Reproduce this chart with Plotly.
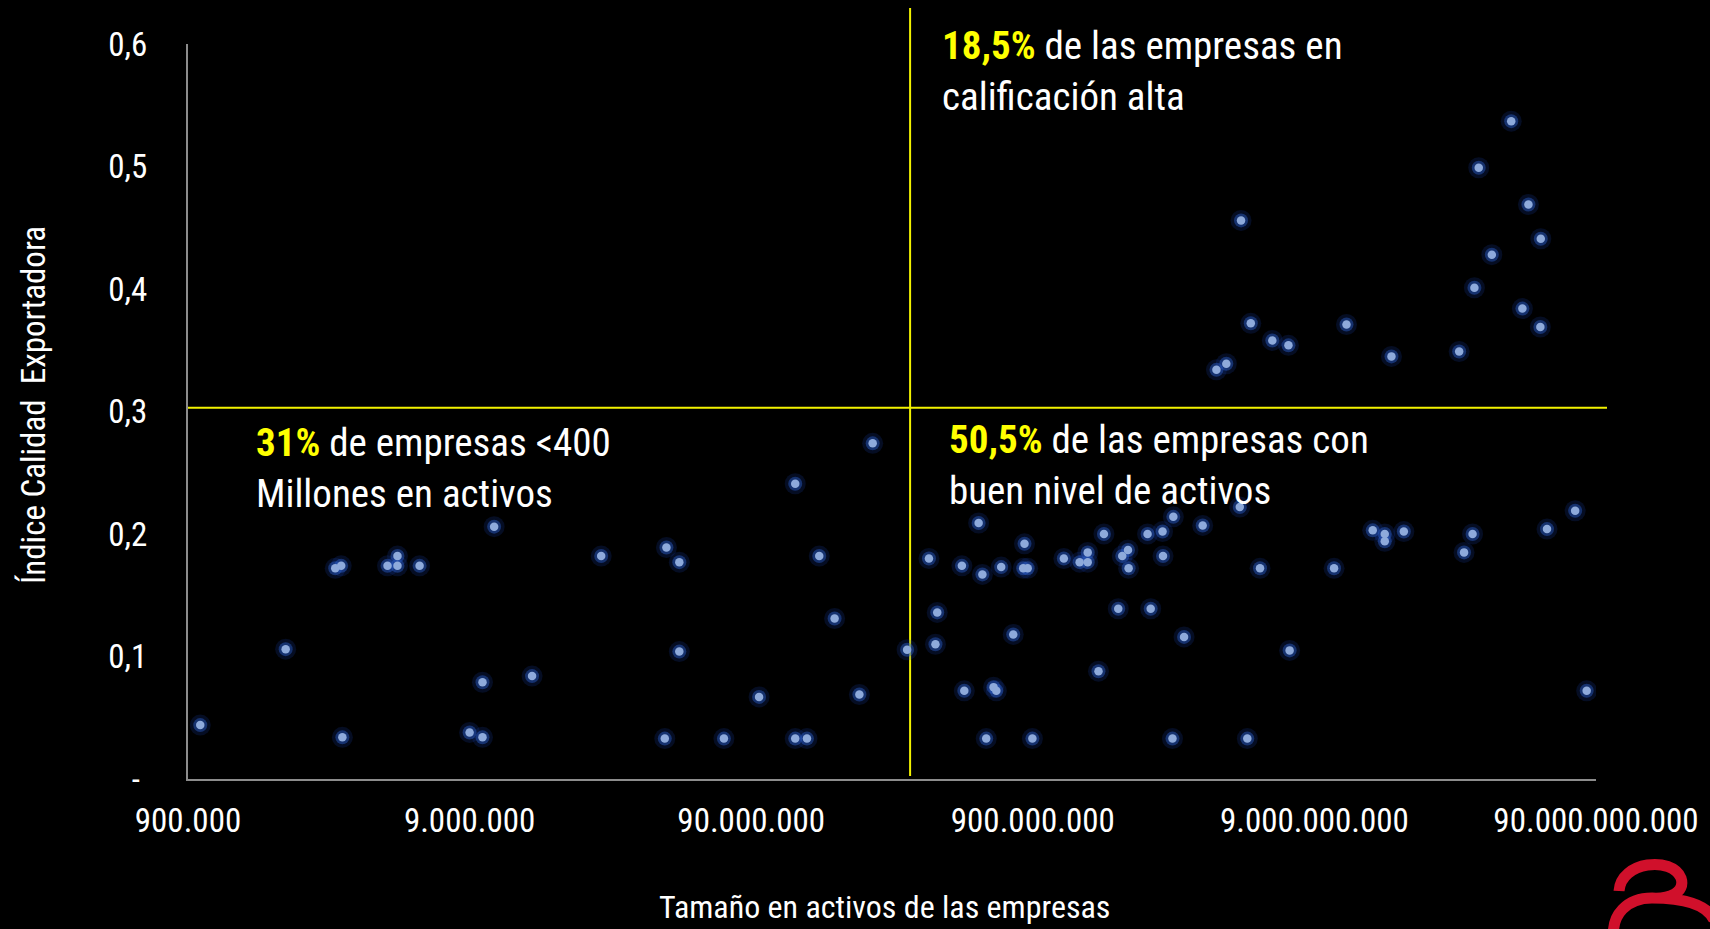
import math
import plotly.graph_objects as go

# ---------------- data ----------------
activos = [
    9.95e5, 2.0e6, 3.0e6, 3.15e6, 3.18e6, 4.6e6, 4.99e6, 4.99e6, 5.98e6, 9.0e6,
    1.0e7, 1.0e7, 1.1e7, 1.5e7, 2.64e7, 4.5e7, 5.0e7, 5.0e7, 4.44e7, 7.2e7,
    9.6e7, 1.29e8, 1.29e8, 1.42e8, 1.57e8, 1.78e8, 2.18e8, 2.43e8, 3.22e8,
    3.85e8, 4.12e8, 4.06e8, 5.78e8, 5.04e8, 5.96e8, 6.95e8, 8.41e8, 8.32e8, 8.63e8,
    7.67e8, 5.14e8, 6.53e8, 6.68e8, 6.15e8, 8.97e8, 1.16e9, 1.32e9, 1.41e9, 1.41e9,
    1.61e9, 1.87e9, 1.96e9, 1.97e9, 1.54e9, 1.81e9, 2.30e9, 2.60e9, 2.84e9, 2.61e9,
    2.36e9, 3.61e9, 3.10e9, 2.82e9, 4.89e9, 5.77e9, 5.20e9, 7.35e9,
    1.057e10, 1.45e10, 1.60e10, 1.60e10, 1.87e10, 3.28e10, 3.06e10, 6.03e10, 7.59e10, 8.34e10,
    4.04e9, 4.38e9, 4.94e9, 5.35e9, 6.38e9, 7.28e9, 1.17e10, 1.69e10, 2.94e10, 3.33e10,
    3.45e10, 3.84e10, 4.50e10, 4.93e10, 5.18e10, 5.73e10, 5.71e10,
]
indice = [
    0.044, 0.106, 0.172, 0.174, 0.034, 0.174, 0.182, 0.174, 0.174, 0.038,
    0.034, 0.079, 0.206, 0.084, 0.182, 0.189, 0.177, 0.104, 0.033, 0.033,
    0.067, 0.241, 0.033, 0.033, 0.182, 0.131, 0.069, 0.274, 0.1055,
    0.180, 0.136, 0.110, 0.209, 0.174, 0.167, 0.173, 0.192, 0.172, 0.172,
    0.118, 0.072, 0.075, 0.072, 0.033, 0.033, 0.180, 0.177, 0.177, 0.185,
    0.200, 0.182, 0.187, 0.172, 0.088, 0.139, 0.200, 0.202, 0.214, 0.182,
    0.139, 0.207, 0.116, 0.033, 0.222, 0.172, 0.033, 0.105,
    0.172, 0.203, 0.200, 0.194, 0.202, 0.200, 0.185, 0.204, 0.219, 0.072,
    0.334, 0.339, 0.456, 0.372, 0.358, 0.354, 0.371, 0.345, 0.349, 0.401,
    0.499, 0.428, 0.537, 0.384, 0.469, 0.441, 0.369,
]

x_tickvals = [9e5, 9e6, 9e7, 9e8, 9e9, 9e10]
x_ticktext = ["900.000", "9.000.000", "90.000.000", "900.000.000",
              "9.000.000.000", "90.000.000.000"]
y_tickvals = [0, 0.1, 0.2, 0.3, 0.4, 0.5, 0.6]
y_ticktext = ["-\u00a0", "0,1", "0,2", "0,3", "0,4", "0,5", "0,6"]

umbral_indice = 0.303
umbral_activos = 3.3e8

x_title = "Tamaño en activos de las empresas"
y_title = "Índice Calidad  Exportadora"
txt_alta = ("<span style='color:#FFFF00'><b>18,5%</b></span> de las empresas en"
            "<br>calificación alta")
txt_bajo = ("<span style='color:#FFFF00'><b>31%</b></span> de empresas &lt;400"
            "<br>Millones en activos")
txt_medio = ("<span style='color:#FFFF00'><b>50,5%</b></span> de las empresas con"
             "<br>buen nivel de activos")

# ---------------- layout geometry ----------------
W, H = 1710, 929
ML, MR, MT, MB = 188, 114, 44, 150
PW = W - ML - MR
PH = H - MT - MB
XMIN, XMAX = math.log10(9e5), math.log10(9e10)
YMIN, YMAX = 0.0, 0.6


def px_x(px):
    return (px - ML) / PW


def px_y(py):
    return (H - MB - py) / PH


FONT = "Liberation Sans Narrow, Arial Narrow, Roboto Condensed, DejaVu Sans Condensed, sans-serif"
WHITE = "#FFFFFF"

fig = go.Figure()

# glow layers + core points
fig.add_trace(go.Scatter(x=activos, y=indice, mode="markers", hoverinfo="skip",
                         marker=dict(size=21, color="rgba(25,60,160,0.22)", line=dict(width=0))))
fig.add_trace(go.Scatter(x=activos, y=indice, mode="markers", hoverinfo="skip",
                         marker=dict(size=14, color="rgba(45,95,205,0.45)", line=dict(width=0))))
fig.add_trace(go.Scatter(x=activos, y=indice, mode="markers",
                         marker=dict(size=8.5, color="#8EAADB", line=dict(width=0))))

# quadrant lines
hx1 = px_x(1607)
hy = (umbral_indice - YMIN) / (YMAX - YMIN)
vx = (math.log10(umbral_activos) - XMIN) / (XMAX - XMIN)
shapes = [
    dict(type="line", xref="paper", yref="paper", x0=0, x1=hx1, y0=hy, y1=hy,
         line=dict(color="#F2F200", width=2), layer="below"),
    dict(type="line", xref="paper", yref="paper", x0=vx, x1=vx, y0=px_y(776), y1=px_y(8),
         line=dict(color="#F2F200", width=2), layer="below"),
]

# logo (decorative, bottom-right)
logo_pts = [
    ("M", [(1619, 891)]),
    ("C", [(1621, 861), (1672, 856), (1681, 878)]),
    ("C", [(1686, 893), (1668, 899), (1652, 898)]),
    ("C", [(1628, 898), (1610, 914), (1614, 940)]),
    ("M", [(1652, 898)]),
    ("C", [(1682, 898), (1706, 903), (1714, 920)]),
]
path = ""
for cmd, pts in logo_pts:
    path += cmd + " " + " ".join(f"{px_x(a):.5f},{px_y(b):.5f}" for a, b in pts) + " "
shapes.append(dict(type="path", xref="paper", yref="paper", path=path.strip(),
                   line=dict(color="#D0102B", width=11)))

annotations = [
    dict(text=txt_alta, x=px_x(940), y=px_y(72), xref="paper", yref="paper",
         xanchor="left", yanchor="middle", align="left", showarrow=False,
         font=dict(family=FONT, size=39, color=WHITE)),
    dict(text=txt_bajo, x=px_x(254), y=px_y(468), xref="paper", yref="paper",
         xanchor="left", yanchor="middle", align="left", showarrow=False,
         font=dict(family=FONT, size=39, color=WHITE)),
    dict(text=txt_medio, x=px_x(947), y=px_y(466), xref="paper", yref="paper",
         xanchor="left", yanchor="middle", align="left", showarrow=False,
         font=dict(family=FONT, size=39, color=WHITE)),
    dict(text=x_title, x=px_x(884), y=px_y(907), xref="paper", yref="paper",
         xanchor="center", yanchor="middle", showarrow=False,
         font=dict(family=FONT, size=32, color=WHITE)),
    dict(text=y_title, x=px_x(33), y=px_y(405), xref="paper", yref="paper",
         xanchor="center", yanchor="middle", showarrow=False, textangle=-90,
         font=dict(family=FONT, size=33, color=WHITE)),
]

fig.update_layout(
    width=W, height=H,
    margin=dict(l=ML, r=MR, t=MT, b=MB, pad=0),
    paper_bgcolor="black", plot_bgcolor="black",
    showlegend=False,
    shapes=shapes,
    annotations=annotations,
    font=dict(family=FONT, color=WHITE),
)
fig.update_xaxes(type="log", range=[XMIN, XMAX], tickvals=x_tickvals, ticktext=x_ticktext,
                 showgrid=False, zeroline=False, showline=True, linecolor="#8C8C8C",
                 linewidth=2, ticks="", ticklabelstandoff=11,
                 tickfont=dict(family=FONT, size=33, color=WHITE))
fig.update_yaxes(range=[YMIN, YMAX], tickvals=y_tickvals, ticktext=y_ticktext,
                 showgrid=False, zeroline=False, showline=True, linecolor="#8C8C8C",
                 linewidth=2, ticks="", ticklabelstandoff=32,
                 tickfont=dict(family=FONT, size=33, color=WHITE))

fig.write_html(
    "out.html",
    config={"displayModeBar": False},
    post_script="document.body.style.margin='0';document.body.style.background='black';",
)
